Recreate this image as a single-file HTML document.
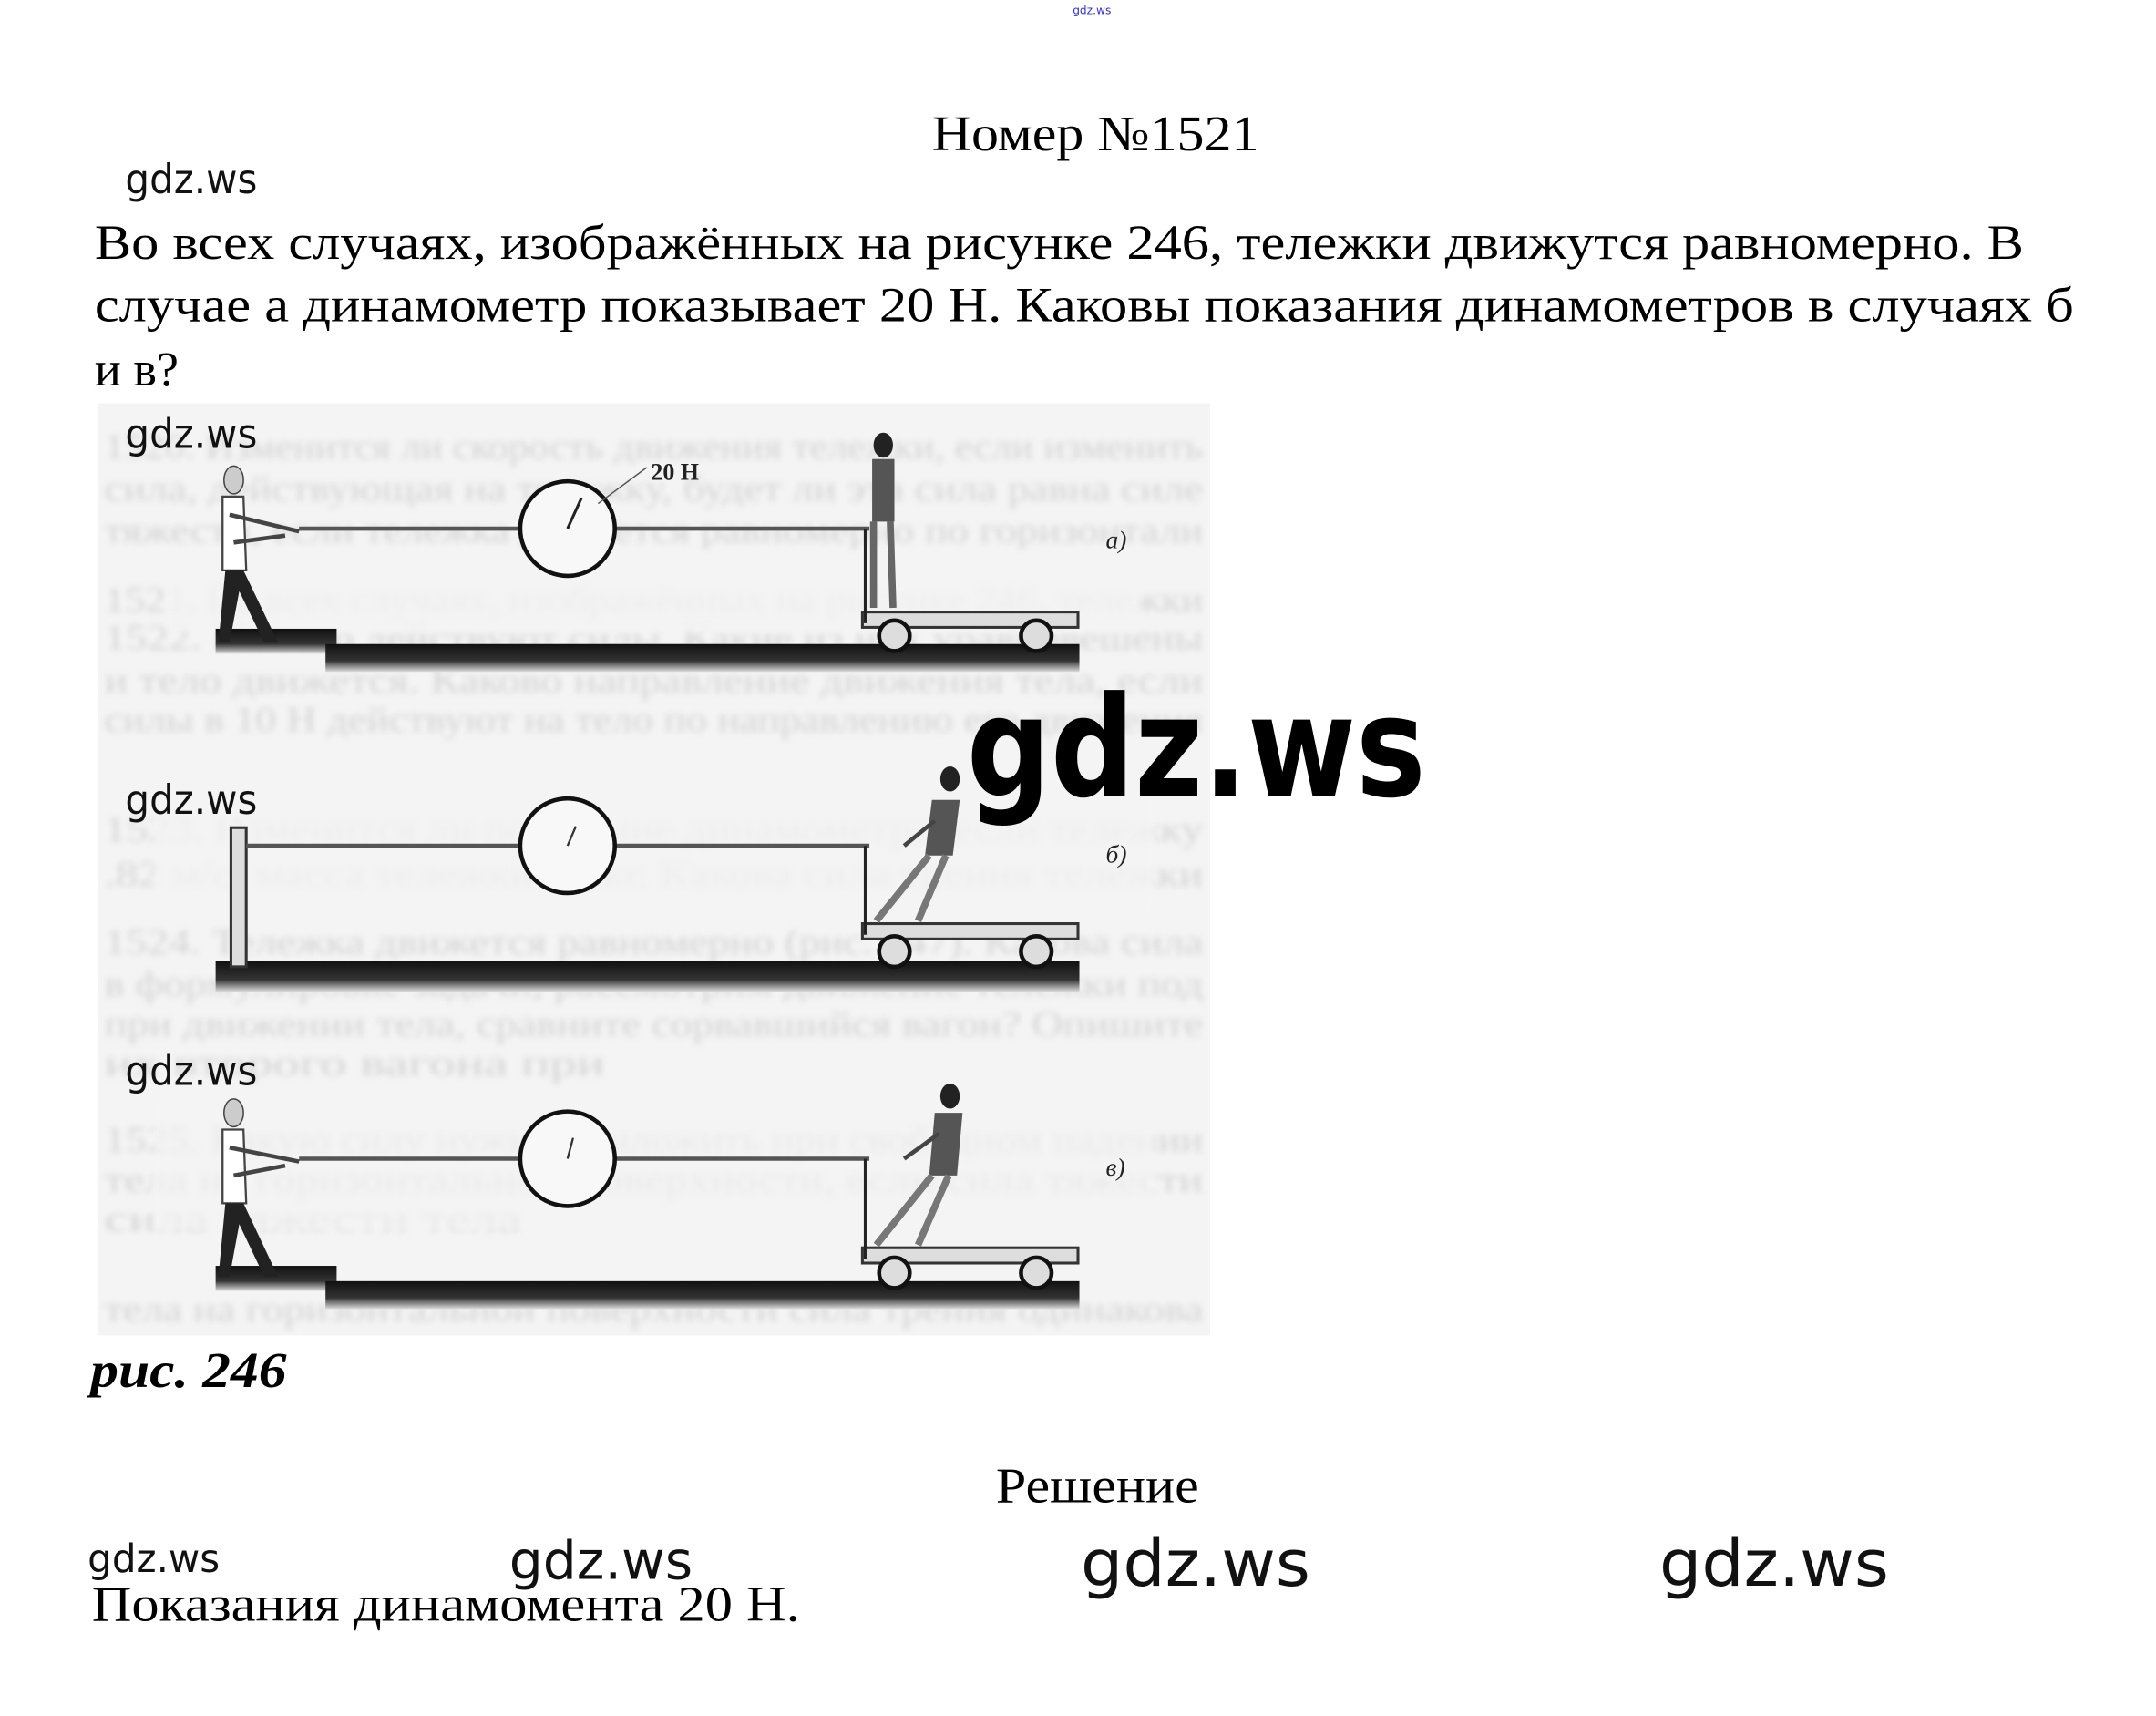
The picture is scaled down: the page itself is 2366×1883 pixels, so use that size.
<!DOCTYPE html>
<html><head><meta charset="utf-8"><style>
html,body{margin:0;padding:0;background:#fff;width:2366px;height:1883px;overflow:hidden}
svg{display:block}
.s{font-family:"Liberation Serif",serif}
.g{font-family:"DejaVu Sans","Liberation Sans",sans-serif}
</style></head><body>
<svg width="2366" height="1883" viewBox="0 0 1550 1233.6" xmlns="http://www.w3.org/2000/svg">
<defs>
<linearGradient id="gr" x1="0" y1="0" x2="0" y2="1"><stop offset="0" stop-color="#111"/><stop offset="0.6" stop-color="#333"/><stop offset="1" stop-color="#ddd"/></linearGradient>
<filter id="bl"><feGaussianBlur stdDeviation="2.2"/></filter>
</defs>
<text x="785" y="10" font-size="8" fill="#33c" class="g" text-anchor="middle">gdz.ws</text>
<text x="670" y="108" font-size="36" class="s" textLength="235" lengthAdjust="spacingAndGlyphs">Номер №1521</text>
<text x="90" y="139" font-size="29" class="g" fill="#111" textLength="95" lengthAdjust="spacingAndGlyphs">gdz.ws</text>
<g class="s" font-size="35.5">
<text x="68" y="186" textLength="1387" lengthAdjust="spacingAndGlyphs">Во всех случаях, изображённых на рисунке 246, тележки движутся равномерно. В</text>
<text x="68" y="231" textLength="1423" lengthAdjust="spacingAndGlyphs">случае а динамометр показывает 20 Н. Каковы показания динамометров в случаях б</text>
<text x="68" y="277">и в?</text>
</g>
<!-- figure -->
<rect x="70" y="290" width="800" height="670" fill="#f4f4f4"/>
<g filter="url(#bl)" fill="#9a9a9a" opacity="0.35" class="s" font-size="26">
<text x="75" y="330" textLength="790" lengthAdjust="spacingAndGlyphs">1520. Изменится ли скорость движения тележки, если изменить</text>
<text x="75" y="360" textLength="790" lengthAdjust="spacingAndGlyphs">сила, действующая на тележку, будет ли эта сила равна силе</text>
<text x="75" y="390" textLength="790" lengthAdjust="spacingAndGlyphs">тяжести, если тележка движется равномерно по горизонтали</text>
<text x="75" y="440" textLength="790" lengthAdjust="spacingAndGlyphs">1521. Во всех случаях, изображённых на рисунке 246, тележки</text>
<text x="75" y="467" textLength="790" lengthAdjust="spacingAndGlyphs">1522. На тело действуют силы. Какие из них уравновешены</text>
<text x="75" y="498" textLength="790" lengthAdjust="spacingAndGlyphs">и тело движется. Каково направление движения тела, если</text>
<text x="75" y="526" textLength="790" lengthAdjust="spacingAndGlyphs">силы в 10 Н действуют на тело по направлению его движения</text>
<text x="75" y="605" textLength="790" lengthAdjust="spacingAndGlyphs">1523. Изменится ли показание динамометра, если тележку</text>
<text x="75" y="637" textLength="790" lengthAdjust="spacingAndGlyphs">.82 м/с, масса тележки 15 кг. Какова сила трения тележки</text>
<text x="75" y="686" textLength="790" lengthAdjust="spacingAndGlyphs">1524. Тележка движется равномерно (рис. 247). Какова сила</text>
<text x="75" y="716" textLength="790" lengthAdjust="spacingAndGlyphs">в формулировке задачи, рассмотрим движение тележки под</text>
<text x="75" y="745" textLength="790" lengthAdjust="spacingAndGlyphs">при движении тела, сравните сорвавшийся вагон? Опишите</text>
<text x="75" y="773" textLength="360" lengthAdjust="spacingAndGlyphs">их второго вагона при</text>
<text x="75" y="828" textLength="790" lengthAdjust="spacingAndGlyphs">1525. Какую силу нужно приложить при свободном падении</text>
<text x="75" y="857" textLength="790" lengthAdjust="spacingAndGlyphs">тела на горизонтальной поверхности, если сила тяжести</text>
<text x="75" y="885" textLength="300" lengthAdjust="spacingAndGlyphs">сила тяжести тела</text>
<text x="75" y="950" textLength="790" lengthAdjust="spacingAndGlyphs">тела на горизонтальной поверхности сила трения одинакова</text>
</g>
<rect x="120" y="395" width="700" height="60" fill="#f4f4f4" opacity="0.8" filter="url(#bl)"/>
<rect x="110" y="560" width="720" height="100" fill="#f4f4f4" opacity="0.8" filter="url(#bl)"/>
<rect x="110" y="785" width="720" height="100" fill="#f4f4f4" opacity="0.7" filter="url(#bl)"/>

<!-- panel a -->
<g>
<rect x="155" y="452" width="87" height="18" fill="url(#gr)"/>
<rect x="234" y="463" width="542" height="20" fill="url(#gr)"/>
<line x1="215" y1="380" x2="625" y2="380" stroke="#555" stroke-width="3"/>
<circle cx="408" cy="380" r="34" fill="#f8f8f8" stroke="#111" stroke-width="3"/>
<line x1="408" y1="380" x2="418" y2="358" stroke="#222" stroke-width="2"/>
<line x1="430" y1="362" x2="465" y2="336" stroke="#555" stroke-width="1"/>
<text x="468" y="345" font-size="17" font-weight="bold" class="s" fill="#222">20 Н</text>
<text x="795" y="394" font-size="18" font-style="italic" class="s" fill="#222">а)</text>
<rect x="620" y="440" width="155" height="11" fill="#ddd" stroke="#333" stroke-width="2"/>
<line x1="622" y1="380" x2="622" y2="448" stroke="#222" stroke-width="2"/>
<circle cx="643" cy="457" r="11" fill="#ddd" stroke="#111" stroke-width="3"/>
<circle cx="745" cy="457" r="11" fill="#ddd" stroke="#111" stroke-width="3"/>
<ellipse cx="635" cy="320" rx="7" ry="9" fill="#222"/>
<rect x="627" y="330" width="16" height="45" fill="#555"/>
<path d="M628 375 L628 437 M640 375 L642 437" stroke="#666" stroke-width="5"/>
<ellipse cx="168" cy="345" rx="7" ry="10" fill="#ccc" stroke="#444"/>
<path d="M160 357 L175 357 L177 410 L160 410 Z" fill="#fff" stroke="#444" stroke-width="1.5"/>
<path d="M165 370 L215 382 M168 390 L205 385" stroke="#444" stroke-width="3"/>
<path d="M162 410 L175 410 L200 462 L190 462 L172 425 L165 462 L157 462 Z" fill="#222"/>
</g>
<!-- panel b -->
<g>
<rect x="155" y="691" width="621" height="22" fill="url(#gr)"/>
<rect x="166" y="595" width="11" height="100" fill="#ddd" stroke="#333" stroke-width="2"/>
<line x1="177" y1="608" x2="625" y2="608" stroke="#555" stroke-width="3"/>
<circle cx="408" cy="608" r="34" fill="#f8f8f8" stroke="#111" stroke-width="3"/>
<line x1="408" y1="608" x2="414" y2="594" stroke="#333" stroke-width="1.5"/>
<text x="795" y="620" font-size="18" font-style="italic" class="s" fill="#222">б)</text>
<rect x="620" y="664" width="155" height="11" fill="#ddd" stroke="#333" stroke-width="2"/>
<line x1="622" y1="608" x2="622" y2="672" stroke="#222" stroke-width="2"/>
<circle cx="643" cy="684" r="11" fill="#ddd" stroke="#111" stroke-width="3"/>
<circle cx="745" cy="684" r="11" fill="#ddd" stroke="#111" stroke-width="3"/>
<ellipse cx="683" cy="560" rx="7" ry="9" fill="#222"/>
<path d="M670 575 L690 575 L685 615 L665 615 Z" fill="#555"/>
<path d="M668 615 L630 662 M680 615 L660 662" stroke="#777" stroke-width="5"/>
<path d="M672 590 L650 608" stroke="#444" stroke-width="3"/>
</g>
<!-- panel c -->
<g>
<rect x="155" y="910" width="87" height="18" fill="url(#gr)"/>
<rect x="234" y="921" width="542" height="20" fill="url(#gr)"/>
<line x1="215" y1="833" x2="625" y2="833" stroke="#555" stroke-width="3"/>
<circle cx="408" cy="833" r="34" fill="#f8f8f8" stroke="#111" stroke-width="3"/>
<line x1="408" y1="833" x2="412" y2="818" stroke="#333" stroke-width="1.5"/>
<text x="795" y="845" font-size="18" font-style="italic" class="s" fill="#222">в)</text>
<rect x="620" y="897" width="155" height="11" fill="#ddd" stroke="#333" stroke-width="2"/>
<line x1="622" y1="833" x2="622" y2="905" stroke="#222" stroke-width="2"/>
<circle cx="643" cy="915" r="11" fill="#ddd" stroke="#111" stroke-width="3"/>
<circle cx="745" cy="915" r="11" fill="#ddd" stroke="#111" stroke-width="3"/>
<ellipse cx="683" cy="788" rx="7" ry="9" fill="#222"/>
<path d="M672 800 L692 800 L688 845 L668 845 Z" fill="#555"/>
<path d="M670 845 L630 895 M682 845 L660 895" stroke="#777" stroke-width="5"/>
<path d="M675 815 L650 833" stroke="#444" stroke-width="3"/>
<ellipse cx="168" cy="800" rx="7" ry="10" fill="#ccc" stroke="#444"/>
<path d="M160 812 L175 812 L177 865 L160 865 Z" fill="#fff" stroke="#444" stroke-width="1.5"/>
<path d="M165 825 L215 835 M168 845 L205 838" stroke="#444" stroke-width="3"/>
<path d="M162 865 L175 865 L200 918 L190 918 L172 880 L165 918 L157 918 Z" fill="#222"/>
</g>
<g class="g" font-size="29" fill="#111">
<text x="90" y="322" textLength="95" lengthAdjust="spacingAndGlyphs">gdz.ws</text>
<text x="90" y="585" textLength="95" lengthAdjust="spacingAndGlyphs">gdz.ws</text>
<text x="90" y="780" textLength="95" lengthAdjust="spacingAndGlyphs">gdz.ws</text>
</g>
<text x="695" y="572" font-size="100" class="g" font-weight="bold" fill="#000" textLength="330" lengthAdjust="spacingAndGlyphs">gdz.ws</text>

<text x="65" y="997" font-size="36" font-style="italic" font-weight="bold" class="s" textLength="141" lengthAdjust="spacingAndGlyphs">рис. 246</text>
<text x="716" y="1080" font-size="36" class="s" textLength="146" lengthAdjust="spacingAndGlyphs">Решение</text>
<g class="g" fill="#111">
<text x="63" y="1130" font-size="28" textLength="95" lengthAdjust="spacingAndGlyphs">gdz.ws</text>
<text x="366" y="1135" font-size="38" textLength="132" lengthAdjust="spacingAndGlyphs">gdz.ws</text>
<text x="777" y="1140" font-size="46" textLength="165" lengthAdjust="spacingAndGlyphs">gdz.ws</text>
<text x="1193" y="1140" font-size="46" textLength="165" lengthAdjust="spacingAndGlyphs">gdz.ws</text>
</g>
<text x="66" y="1165" font-size="36" class="s" textLength="509" lengthAdjust="spacingAndGlyphs">Показания динамомента 20 Н.</text>
</svg>
</body></html>
